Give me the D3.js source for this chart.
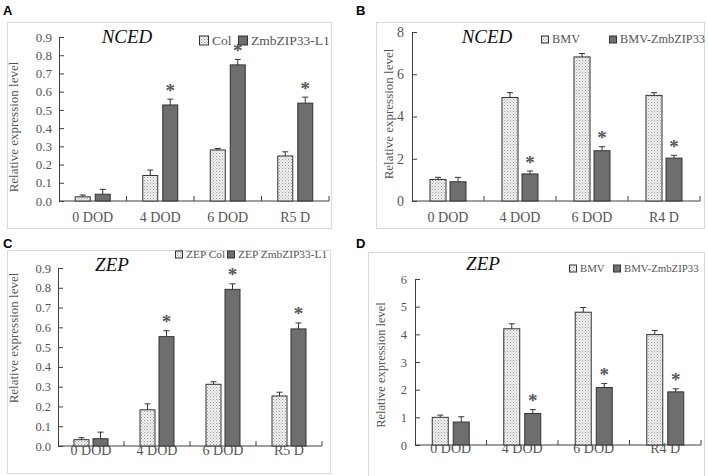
<!DOCTYPE html>
<html>
<head>
<meta charset="utf-8">
<script src="https://cdn.jsdelivr.net/npm/d3@7"></script>
<style>
  body { margin: 0; background: #fff; }
  svg { display: block; }
</style>
</head>
<body>
<div id="chart"></div>
<script>
// data
const catsAC = ["0 DOD", "4 DOD", "6 DOD", "R5 D"];
const catsBD = ["0 DOD", "4 DOD", "6 DOD", "R4 D"];

const aCol = [0.023, 0.14, 0.28, 0.247];
const aColErr = [0.01, 0.03, 0.008, 0.023];
const aZmb = [0.037, 0.527, 0.747, 0.537];
const aZmbErr = [0.027, 0.032, 0.03, 0.033];
const aStar = [false, true, true, true];

const bBmv = [1.02, 4.9, 6.82, 5.0];
const bBmvErr = [0.1, 0.23, 0.16, 0.13];
const bZmb = [0.91, 1.28, 2.38, 2.03];
const bZmbErr = [0.21, 0.14, 0.19, 0.13];
const bStar = [false, true, true, true];

const cCol = [0.032, 0.183, 0.312, 0.253];
const cColErr = [0.01, 0.03, 0.013, 0.019];
const cZmb = [0.037, 0.553, 0.792, 0.592];
const cZmbErr = [0.033, 0.03, 0.028, 0.03];
const cStar = [false, true, true, true];

const dBmv = [1.0, 4.2, 4.8, 3.99];
const dBmvErr = [0.08, 0.18, 0.17, 0.15];
const dZmb = [0.83, 1.14, 2.08, 1.92];
const dZmbErr = [0.19, 0.14, 0.14, 0.11];
const dStar = [false, true, true, true];

const ticksAC = [0, 0.1, 0.2, 0.3, 0.4, 0.5, 0.6, 0.7, 0.8, 0.9];
const ticksB = [0, 2, 4, 6, 8];
const ticksD = [0, 1, 2, 3, 4, 5, 6];

const serif = "'Liberation Serif', 'Times New Roman', serif";

let svg = d3.select("#chart").append("svg")
  .attr("width", 708)
  .attr("height", 476);

// stipple for the light bars
let defs = svg.append("defs");
let pat = defs.append("pattern")
  .attr("id", "dots")
  .attr("patternUnits", "userSpaceOnUse")
  .attr("width", 3).attr("height", 3);
pat.append("rect").attr("width", 3).attr("height", 3).attr("fill", "#f2f2f2");
pat.append("rect").attr("x", 0).attr("y", 0).attr("width", 1).attr("height", 1).attr("fill", "#9a9a9a");
pat.append("rect").attr("x", 1.5).attr("y", 1.5).attr("width", 1).attr("height", 1).attr("fill", "#b0b0b0");

let panels = [
  { letter: "A", lx: 3, ly: 15, frame: [7, 22, 331, 228],
    x0: 59, x1: 329, y0: 201, y1: 37, ymax: 0.9, ticks: ticksAC, fmt: d3.format(".1f"),
    cats: catsAC, v1: aCol, e1: aColErr, v2: aZmb, e2: aZmbErr, star: aStar,
    title: "NCED", tx: 127, ty: 43, tsize: 19,
    leg: ["Col", "ZmbZIP33-L1"], legX: [199, 238], legY: 40, legSq: 9, legSize: 13.5,
    ylx: 14, yly: 127, ylSize: 13, xly: 222, tickSize: 13, pad: 7, off: 10, bw: 15 },
  { letter: "B", lx: 356, ly: 15, frame: [376, 22, 704, 228],
    x0: 412, x1: 700, y0: 201, y1: 32, ymax: 8, ticks: ticksB, fmt: d3.format("d"),
    cats: catsBD, v1: bBmv, e1: bBmvErr, v2: bZmb, e2: bZmbErr, star: bStar,
    title: "NCED", tx: 487, ty: 43, tsize: 19,
    leg: ["BMV", "BMV-ZmbZIP33"], legX: [541, 609], legY: 39, legSq: 7, legSize: 12.3,
    ylx: 389, yly: 114, ylSize: 13, xly: 222, tickSize: 14, pad: 8, off: 10, bw: 16 },
  { letter: "C", lx: 3, ly: 248, frame: [7, 250, 330, 473],
    x0: 58, x1: 322, y0: 446, y1: 268, ymax: 0.9, ticks: ticksAC, fmt: d3.format(".1f"),
    cats: catsAC, v1: cCol, e1: cColErr, v2: cZmb, e2: cZmbErr, star: cStar,
    title: "ZEP", tx: 112, ty: 271, tsize: 19,
    leg: ["ZEP Col", "ZEP ZmbZIP33-L1"], legX: [175, 227], legY: 254, legSq: 7, legSize: 11.4,
    ylx: 14, yly: 338, ylSize: 13, xly: 455, tickSize: 12.5, pad: 7, off: 9.5, bw: 15 },
  { letter: "D", lx: 356, ly: 248, frame: [368, 252, 704, 480],
    x0: 415, x1: 701, y0: 445, y1: 279, ymax: 6, ticks: ticksD, fmt: d3.format("d"),
    cats: catsBD, v1: dBmv, e1: dBmvErr, v2: dZmb, e2: dZmbErr, star: dStar,
    title: "ZEP", tx: 483, ty: 270, tsize: 19,
    leg: ["BMV", "BMV-ZmbZIP33"], legX: [569, 613], legY: 268, legSq: 7, legSize: 10.8,
    ylx: 381, yly: 365, ylSize: 12.5, xly: 453, tickSize: 12.5, pad: 8, off: 10.5, bw: 16 }
];

panels.forEach(drawPanel);

function drawPanel(p) {
  let g = svg.append("g");

  g.append("rect")
    .attr("x", p.frame[0] + 0.5).attr("y", p.frame[1] + 0.5)
    .attr("width", p.frame[2] - p.frame[0]).attr("height", p.frame[3] - p.frame[1])
    .attr("fill", "none").attr("stroke", "#d9d9d9");

  g.append("text")
    .attr("x", p.lx).attr("y", p.ly)
    .attr("font-family", "'Liberation Sans', Arial, sans-serif")
    .attr("font-weight", "bold").attr("font-size", 13)
    .attr("fill", "#000")
    .text(p.letter);

  let x = d3.scaleBand().domain(p.cats).range([p.x0, p.x1]);
  let y = d3.scaleLinear().domain([0, p.ymax]).range([p.y0, p.y1]);

  // y axis with inward ticks
  let yAxis = g.append("g")
    .attr("transform", `translate(${p.x0},0)`)
    .attr("font-family", serif)
    .call(d3.axisLeft(y).tickValues(p.ticks).tickFormat(p.fmt).tickSizeInner(-5).tickSizeOuter(-5).tickPadding(p.pad));
  yAxis.attr("font-family", serif);
  yAxis.select(".domain").attr("stroke", "#404040");
  yAxis.selectAll(".tick line").attr("stroke", "#404040");
  yAxis.selectAll("text")
    .attr("font-family", serif).attr("font-size", p.tickSize).attr("fill", "#555");

  // x axis, ticks between categories
  let xAxis = g.append("g").attr("transform", `translate(0,${p.y0})`);
  xAxis.append("line")
    .attr("x1", p.x0).attr("x2", p.x1)
    .attr("stroke", "#404040");
  let bounds = p.cats.map((c) => x(c) + x.bandwidth());
  xAxis.selectAll(".xt").data(bounds).enter().append("line")
    .attr("x1", (d) => d).attr("x2", (d) => d)
    .attr("y1", 0).attr("y2", -5)
    .attr("stroke", "#404040");
  xAxis.selectAll(".xl").data(p.cats).enter().append("text")
    .attr("x", (d) => x(d) + x.bandwidth() / 2)
    .attr("y", p.xly - p.y0)
    .attr("text-anchor", "middle")
    .attr("font-family", serif).attr("font-size", 14).attr("fill", "#555")
    .text((d) => d);

  let rows = p.cats.map((c, i) => ({
    cat: c, v1: p.v1[i], e1: p.e1[i], v2: p.v2[i], e2: p.e2[i], star: p.star[i]
  }));

  let series = [
    { key: "v1", err: "e1", dx: -p.off, fill: "url(#dots)" },
    { key: "v2", err: "e2", dx: p.off, fill: "#6e6e6e" }
  ];

  series.forEach((s) => {
    let cx = (d) => x(d.cat) + x.bandwidth() / 2 + s.dx;
    // error bars (upper only)
    g.selectAll(null).data(rows).enter().append("line")
      .attr("x1", cx).attr("x2", cx)
      .attr("y1", (d) => y(d[s.key])).attr("y2", (d) => y(d[s.key] + d[s.err]))
      .attr("stroke", "#333");
    g.selectAll(null).data(rows).enter().append("line")
      .attr("x1", (d) => cx(d) - 3).attr("x2", (d) => cx(d) + 3)
      .attr("y1", (d) => y(d[s.key] + d[s.err])).attr("y2", (d) => y(d[s.key] + d[s.err]))
      .attr("stroke", "#333");
    g.selectAll(null).data(rows).enter().append("rect")
      .attr("x", (d) => cx(d) - p.bw / 2)
      .attr("y", (d) => y(d[s.key]))
      .attr("width", p.bw)
      .attr("height", (d) => p.y0 - y(d[s.key]))
      .attr("fill", s.fill)
      .attr("stroke", "#333").attr("stroke-width", 1);
  });

  // significance stars on the second series
  g.selectAll(null).data(rows.filter((d) => d.star)).enter().append("text")
    .attr("x", (d) => x(d.cat) + x.bandwidth() / 2 + p.off)
    .attr("y", (d) => y(d.v2 + d.e2) - 11 + 8.5)
    .attr("text-anchor", "middle")
    .attr("font-family", serif).attr("font-size", 19).attr("font-weight", "bold")
    .attr("fill", "#555")
    .text("*");

  // title
  g.append("text")
    .attr("x", p.tx).attr("y", p.ty)
    .attr("text-anchor", "middle")
    .attr("font-family", serif).attr("font-style", "italic").attr("font-size", p.tsize)
    .attr("fill", "#111")
    .text(p.title);

  // legend
  let fills = ["url(#dots)", "#6e6e6e"];
  p.leg.forEach((name, i) => {
    g.append("rect")
      .attr("x", p.legX[i] + 0.5).attr("y", p.legY - p.legSq / 2 + 0.5)
      .attr("width", p.legSq).attr("height", p.legSq)
      .attr("fill", fills[i]).attr("stroke", "#333");
    g.append("text")
      .attr("x", p.legX[i] + p.legSq + 4).attr("y", p.legY + p.legSize * 0.35)
      .attr("font-family", serif).attr("font-size", p.legSize).attr("fill", "#555")
      .text(name);
  });

  // y axis label
  g.append("text")
    .attr("transform", `translate(${p.ylx + 4},${p.yly}) rotate(-90)`)
    .attr("text-anchor", "middle")
    .attr("font-family", serif).attr("font-size", p.ylSize).attr("fill", "#555")
    .text("Relative expression level");
}
</script>
</body>
</html>
